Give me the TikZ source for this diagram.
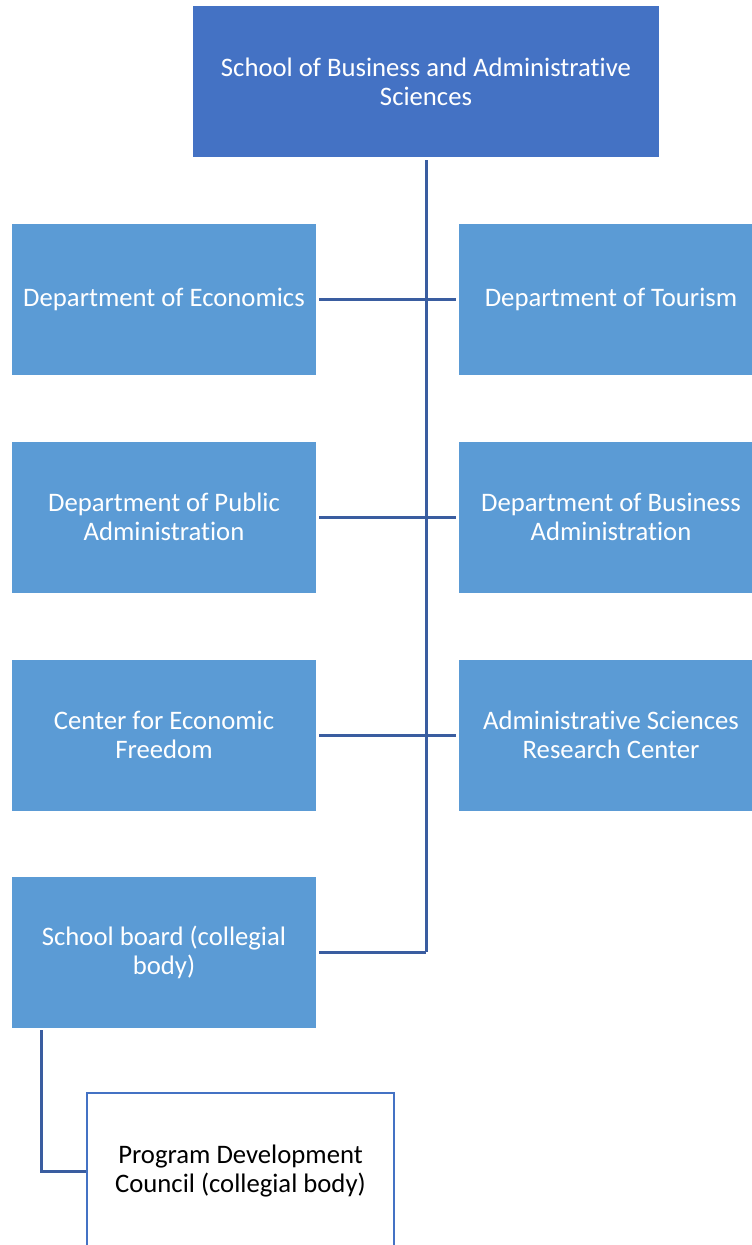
\documentclass[tikz,border=0pt]{standalone}
\usepackage{fontspec}
\setmainfont[Ligatures={NoCommon}]{Carlito}
\definecolor{topblue}{HTML}{4472C4}
\definecolor{boxblue}{HTML}{5B9BD5}
\definecolor{linkblue}{HTML}{3A5DA0}
\begin{document}
\begin{tikzpicture}[x=1pt,y=-1pt,
  boxfont/.style={font=\fontsize{26.7}{28.8}\selectfont},
  unitbox/.style={fill=boxblue, draw=none, minimum width=304pt, minimum height=151pt,
    inner sep=0pt, align=center, text=white, boxfont},
  headbox/.style={fill=topblue, draw=none, minimum width=466pt, minimum height=151pt,
    inner sep=0pt, align=center, text=white, boxfont},
  councilbox/.style={fill=white, draw=topblue, line width=2pt, minimum width=307pt, minimum height=156pt,
    inner sep=0pt, align=center, text=black, boxfont},
  link/.style={draw=linkblue, line width=3pt, line join=miter}]
\clip (0,0) rectangle (752,1245);
\fill[white] (0,0) rectangle (752,1245);
\node[headbox] (top) at (426,81.5) {School of Business and Administrative\\Sciences};
\node[unitbox] (econ) at (164,299.5) {Department of Economics};
\node[unitbox] (tour) at (611,299.5) {Department of Tourism};
\node[unitbox] (pub) at (164,517) {Department of Public\\Administration};
\node[unitbox] (bus) at (611,517) {Department of Business\\Administration};
\node[unitbox] (cef) at (164,735) {Center for Economic\\Freedom};
\node[unitbox] (asrc) at (611,735) {Administrative Sciences\\Research Center};
\node[unitbox] (board) at (164,952) {School board (collegial\\body)};
\node[councilbox] (pdc) at (240.5,1171) {Program Development\\Council (collegial body)};
\coordinate (trunkend) at (426,952);
\coordinate (bendx) at (41,1030);
\path[link] ([yshift=-3pt]top.south) -- (trunkend);
\path[link] ([xshift=3pt]econ.east) -- ([xshift=-3pt]tour.west);
\path[link] ([xshift=3pt]pub.east) -- ([xshift=-3pt]bus.west);
\path[link] ([xshift=3pt]cef.east) -- ([xshift=-3pt]asrc.west);
\path[link] ([xshift=3pt]board.east) -- (trunkend);
\path[link] (bendx) |- (pdc.west);
\end{tikzpicture}
\end{document}
